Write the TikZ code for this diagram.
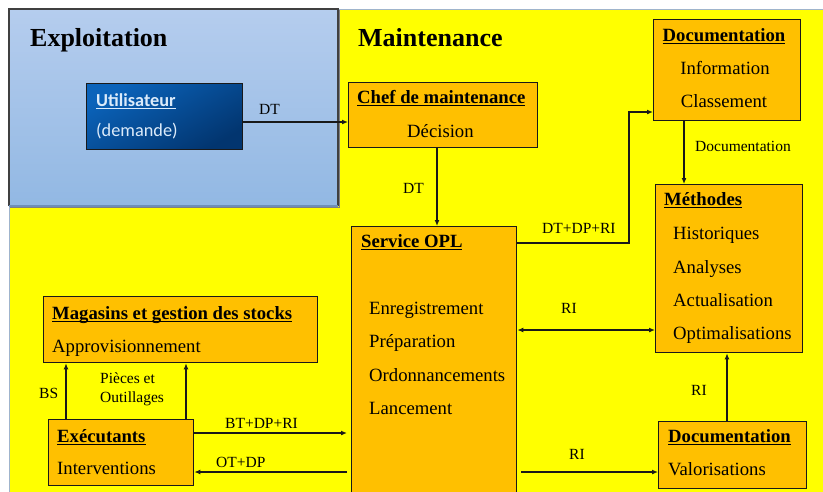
\documentclass[tikz,border=0pt]{standalone}
\usepackage{fontspec}
\setmainfont{Liberation Serif}
\newfontfamily\calfont{Carlito}
\usetikzlibrary{arrows.meta}
\definecolor{bgyellow}{HTML}{FFFF00}
\definecolor{boxorange}{HTML}{FFC000}
\definecolor{exptop}{HTML}{B5CDEE}
\definecolor{expbot}{HTML}{92B8E3}
\definecolor{expedge}{HTML}{6F8FB8}
\definecolor{utop}{HTML}{0B63BA}
\definecolor{ubot}{HTML}{02356F}
\definecolor{utext}{HTML}{DCEBFA}
\definecolor{frameline}{HTML}{9FB4CC}
\newcommand\ulin[1]{\setbox0\hbox{#1}\rlap{\rule[-2.6pt]{\wd0}{1pt}}\box0}
\tikzset{
  box/.style={draw=black!90, line width=1.3pt, fill=boxorange, anchor=north west, inner sep=0pt},
  arr/.style={line width=1.2pt, draw=black!90, -{Latex[length=6pt,width=5pt]}},
  darr/.style={line width=1.2pt, draw=black!90, {Latex[length=6pt,width=5pt]}-{Latex[length=6pt,width=5pt]}},
  big/.style={anchor=base west, inner sep=0pt, font=\fontsize{26}{30}\selectfont\bfseries},
  ttl/.style={anchor=base west, inner sep=0pt, font=\fontsize{18.7}{22}\selectfont\bfseries},
  txt/.style={anchor=base west, inner sep=0pt, font=\fontsize{18.7}{22}\selectfont},
  lbl/.style={anchor=base west, inner sep=0pt, font=\fontsize{15.5}{18}\selectfont},
}
\begin{document}
\begin{tikzpicture}[x=1pt,y=-1pt]
\useasboundingbox (0,0) rectangle (823,491);
\clip (0,0) rectangle (823,491);
% backgrounds
\fill[white] (0,0) rectangle (823,491);
\fill[bgyellow] (9,9) rectangle (830,500);
\draw[frameline, line width=1pt] (9,500) -- (9,9) -- (830,9);
\shade[top color=exptop, bottom color=expbot] (9,9) rectangle (338,206);
\draw[black!75, line width=1.2pt] (9,206) -- (9,9) -- (338,9) -- (338,206);
\draw[expedge, line width=1.5pt] (9,206) -- (338,206);
\draw[black!50, line width=1pt] (10,207.5) -- (339.5,207.5) -- (339.5,10);

\node[big] (lexp) at (30,46) {Exploitation};
\node[big] (lmain) at (358,46) {Maintenance};

% boxes
\node[draw=black!90, line width=1.3pt, top color=utop, bottom color=ubot, shading angle=30, anchor=north west, inner sep=0pt, minimum width=156pt, minimum height=66pt] (util) at (86,83) {};
\node[box, minimum width=189pt, minimum height=65pt] (chef) at (348,82) {};
\node[box, minimum width=147pt, minimum height=101pt] (doc1) at (653,19) {};
\node[box, minimum width=147pt, minimum height=168pt] (meth) at (655,184) {};
\node[box, minimum width=165pt, minimum height=290pt] (opl) at (351,226) {};
\node[box, minimum width=148pt, minimum height=67pt] (doc2) at (658,421) {};
\node[box, minimum width=274pt, minimum height=66pt] (mag) at (43,296) {};
\node[box, minimum width=145pt, minimum height=66pt] (exe) at (48,419) {};

% box texts
\node[anchor=base west, inner sep=0pt, text=utext, font=\calfont\fontsize{18.3}{22}\selectfont\bfseries] (tutil) at (96,106) {\ulin{Utilisateur}};
\node[anchor=base west, inner sep=0pt, text=utext, font=\calfont\fontsize{18.3}{22}\selectfont] (tdem) at (96,136) {(demande)};

\node[ttl] (tchef) at (357,103) {\ulin{Chef de maintenance}};
\node[txt] (tdec) at (407,137) {Décision};

\node[ttl, anchor=base] (tdoc1) at (724,41) {\ulin{Documentation}};
\node[txt, anchor=base] (tinfo) at (725,74) {Information};
\node[txt, anchor=base] (tclass) at (724,107) {Classement};

\node[ttl] (tmeth) at (664,205) {\ulin{Méthodes}};
\node[txt] (thist) at (673,239) {Historiques};
\node[txt] (tanal) at (673,273) {Analyses};
\node[txt] (tact) at (673,306) {Actualisation};
\node[txt] (topt) at (673,339) {Optimalisations};

\node[ttl] (topl) at (361,247) {\ulin{Service OPL}};
\node[txt] (tenr) at (369,314) {Enregistrement};
\node[txt] (tprep) at (369,347) {Préparation};
\node[txt] (tord) at (369,381) {Ordonnancements};
\node[txt] (tlanc) at (369,414) {Lancement};

\node[ttl] (tdoc2) at (668,442) {\ulin{Documentation}};
\node[txt] (tval) at (668,475) {Valorisations};

\node[ttl] (tmag) at (52,319) {\ulin{Magasins et gestion des stocks}};
\node[txt] (tappro) at (52,352) {Approvisionnement};

\node[ttl] (texe) at (57,442) {\ulin{Exécutants}};
\node[txt] (tint) at (57,474) {Interventions};

% helper coordinates
\coordinate (yA) at (0,122);
\coordinate (xB) at (437,0);
\coordinate (p1) at (629,243);
\coordinate (p2) at (629,112);
\coordinate (xC) at (684,0);
\coordinate (yD) at (0,330);
\coordinate (xE) at (727,0);
\coordinate (yF) at (0,472);
\coordinate (yG) at (0,433);
\coordinate (xH) at (66,0);
\coordinate (xI) at (186,0);
\coordinate (oplR) at ([xshift=4pt]opl.east |- yF);
\coordinate (oplL1) at ([xshift=-4pt]opl.west |- yG);
\coordinate (oplL2) at ([xshift=-4pt]opl.west |- yF);

% connectors
\draw[arr] (util.east |- yA) -- (chef.west |- yA);
\draw[arr] (chef.south -| xB) -- (opl.north -| xB);
\draw[arr] (opl.east |- p1) -- (p1) -- (p2) -- (doc1.west |- p2);
\draw[arr] (doc1.south -| xC) -- (meth.north -| xC);
\draw[darr] (opl.east |- yD) -- (meth.west |- yD);
\draw[arr] (doc2.north -| xE) -- (meth.south -| xE);
\draw[arr] (oplR) -- (doc2.west |- yF);
\draw[arr] (exe.east |- yG) -- (oplL1);
\draw[arr] (oplL2) -- (exe.east |- yF);
\draw[arr] (exe.north -| xH) -- (mag.south -| xH);
\draw[arr] (exe.north -| xI) -- (mag.south -| xI);

% connector labels
\node[lbl] (l1) at (259,114) {DT};
\node[lbl] (l2) at (403,193) {DT};
\node[lbl] (l3) at (542,233) {DT+DP+RI};
\node[lbl] (l4) at (695,151) {Documentation};
\node[lbl] (l5) at (561,313) {RI};
\node[lbl] (l6) at (691,395) {RI};
\node[lbl] (l7) at (569,459) {RI};
\node[lbl] (l8) at (39,398) {BS};
\node[lbl] (l9) at (100,383) {Pièces et};
\node[lbl] (l10) at (100,402) {Outillages};
\node[lbl] (l11) at (225,428) {BT+DP+RI};
\node[lbl] (l12) at (216,467) {OT+DP};
\end{tikzpicture}
\end{document}
